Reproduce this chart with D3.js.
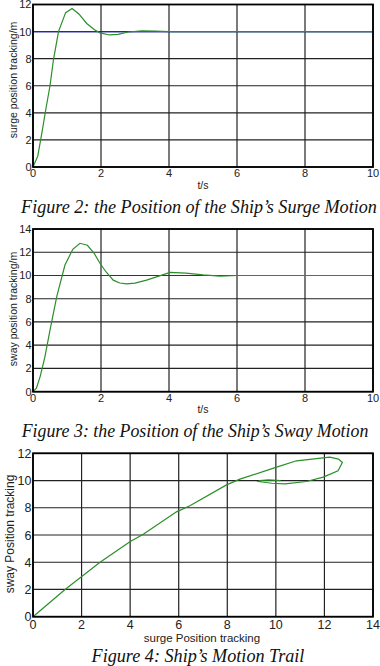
<!DOCTYPE html>
<html><head><meta charset="utf-8">
<script src="https://cdn.jsdelivr.net/npm/d3@7"></script>
<style>html,body{margin:0;padding:0;background:#fff}svg{display:block}</style>
</head><body>
<svg id="c" width="380" height="666"></svg>
<script>
// ---- data ----
const surgeT   = [0,0.14,0.26,0.38,0.5,0.6,0.75,0.96,1.15,1.35,1.58,1.8,1.97,2.25,2.5,2.8,3.2,3.6,4,10];
const surgeVal = [0,0.8,2.5,4.3,6.0,7.9,10.0,11.4,11.7,11.3,10.6,10.15,9.9,9.75,9.8,9.97,10.05,10.03,10,10];
const swayT    = [0,0.1,0.21,0.35,0.5,0.7,0.94,1.17,1.38,1.6,1.8,1.97,2.15,2.36,2.55,2.75,3.0,3.34,3.7,4.03,4.5,5.0,5.5,6,10];
const swayVal  = [0,0.3,1.3,3.0,5.3,8.2,10.9,12.25,12.77,12.6,11.9,11.05,10.3,9.6,9.35,9.27,9.35,9.6,9.95,10.27,10.2,10.05,9.95,10,10];
const refT     = [0,10];
const refVal   = [10,10];
const trailX   = [0,1.32,2.76,3.99,4.54,5.91,6.46,7.97,8.52,10.03,10.85,12.22,12.58,12.74,12.56,11.95,11.26,10.38,9.83,9.27,9.34,9.7,10.2];
const trailY   = [0,2.0,4.0,5.5,6.05,7.7,8.15,9.68,10.1,10.98,11.45,11.72,11.57,11.33,10.71,10.25,9.93,9.76,9.8,9.93,10.0,10.05,10.0];
const ticksT   = [0,2,4,6,8,10];
const ticks12  = [0,2,4,6,8,10,12];
const ticks14  = [0,2,4,6,8,10,12,14];
const captions = ["Figure 2: the Position of the Ship\u2019s Surge Motion",
                  "Figure 3: the Position of the Ship\u2019s Sway Motion",
                  "Figure 4: Ship\u2019s Motion Trail"];

const svg = d3.select("#c");
const green = "#2a8f2a", blue = "#1a1aff";

function panel(o){
  const g = svg.append("g");
  const x = d3.scaleLinear().domain(o.xd).range([33,373]);
  const y = d3.scaleLinear().domain(o.yd).range([o.y0,o.y1]);
  // grid
  g.selectAll(".gx").data(o.xt).join("line")
    .attr("x1",d=>x(d)).attr("x2",d=>x(d)).attr("y1",o.y0).attr("y2",o.y1)
    .attr("stroke","#222").attr("stroke-width",1.2);
  g.selectAll(".gy").data(o.yt).join("line")
    .attr("y1",d=>y(d)).attr("y2",d=>y(d)).attr("x1",33).attr("x2",373)
    .attr("stroke","#222").attr("stroke-width",1.2);
  // series
  const line = d3.line().x(d=>x(d[0])).y(d=>y(d[1]));
  o.series.forEach(s=>{
    g.append("path").attr("d",line(d3.zip(s.xs,s.ys)))
      .attr("fill","none").attr("stroke",s.c).attr("stroke-width",1.2);
  });
  // frame
  g.append("rect").attr("x",33).attr("y",o.y1).attr("width",340).attr("height",o.y0-o.y1)
    .attr("fill","none").attr("stroke","#000").attr("stroke-width",1.8);
  // tick labels
  g.selectAll(".tx").data(o.xt).join("text")
    .attr("x",d=>x(d)).attr("y",o.y0+o.fs*0.95).attr("text-anchor","middle")
    .attr("font-family","Liberation Sans, Arial, sans-serif").attr("font-size",o.fs).attr("fill","#222")
    .text(d=>d);
  g.selectAll(".ty").data(o.yt).join("text")
    .attr("x",31.5).attr("y",d=>y(d)+o.fs*0.36).attr("text-anchor","end")
    .attr("font-family","Liberation Sans, Arial, sans-serif").attr("font-size",o.fs).attr("fill","#222")
    .text(d=>d);
  // axis titles
  g.append("text").attr("transform",`translate(${o.ylx},${o.yly}) rotate(-90)`)
    .attr("text-anchor","middle").attr("dy","0.35em")
    .attr("font-family","Liberation Sans, Arial, sans-serif").attr("font-size",o.lfs).attr("fill","#222")
    .text(o.ylab);
  g.append("text").attr("x",o.xlx).attr("y",o.xly).attr("text-anchor","middle")
    .attr("font-family","Liberation Sans, Arial, sans-serif").attr("font-size",o.xlfs).attr("fill","#222")
    .text(o.xlab);
  // caption
  const cap = g.append("text").attr("x",o.cx).attr("y",o.cy).attr("text-anchor","middle")
    .attr("font-family","Liberation Serif, Times New Roman, serif").attr("font-style","italic")
    .attr("font-size",16).attr("fill","#111").text(o.cap);
  const w = cap.node().getComputedTextLength();
  cap.attr("font-size",16*o.cw/w);
}

panel({xd:[0,10],yd:[0,12],y0:167,y1:4.5,xt:ticksT,yt:ticks12,fs:11,
  series:[{xs:refT,ys:refVal,c:blue},{xs:surgeT,ys:surgeVal,c:green}],
  ylab:"surge position tracking/m",ylx:13,yly:80,lfs:10.5,
  xlab:"t/s",xlx:203,xly:189,xlfs:10.5,
  cap:captions[0],cx:199,cy:213,cw:356});
panel({xd:[0,10],yd:[0,14],y0:391.7,y1:229,xt:ticksT,yt:ticks14,fs:11,
  series:[{xs:refT,ys:refVal,c:blue},{xs:swayT,ys:swayVal,c:green}],
  ylab:"sway position tracking/m",ylx:13,yly:309,lfs:10.5,
  xlab:"t/s",xlx:203,xly:413,xlfs:10.5,
  cap:captions[1],cx:195,cy:437,cw:347});
panel({xd:[0,14],yd:[0,12],y0:616.7,y1:453.3,xt:ticks14,yt:ticks12,fs:12.5,
  series:[{xs:trailX,ys:trailY,c:green}],
  ylab:"sway Position tracking",ylx:10,yly:534,lfs:12,
  xlab:"surge Position tracking",xlx:202,xly:641.5,xlfs:11.5,
  cap:captions[2],cx:198,cy:662,cw:213});
</script>
</body></html>
